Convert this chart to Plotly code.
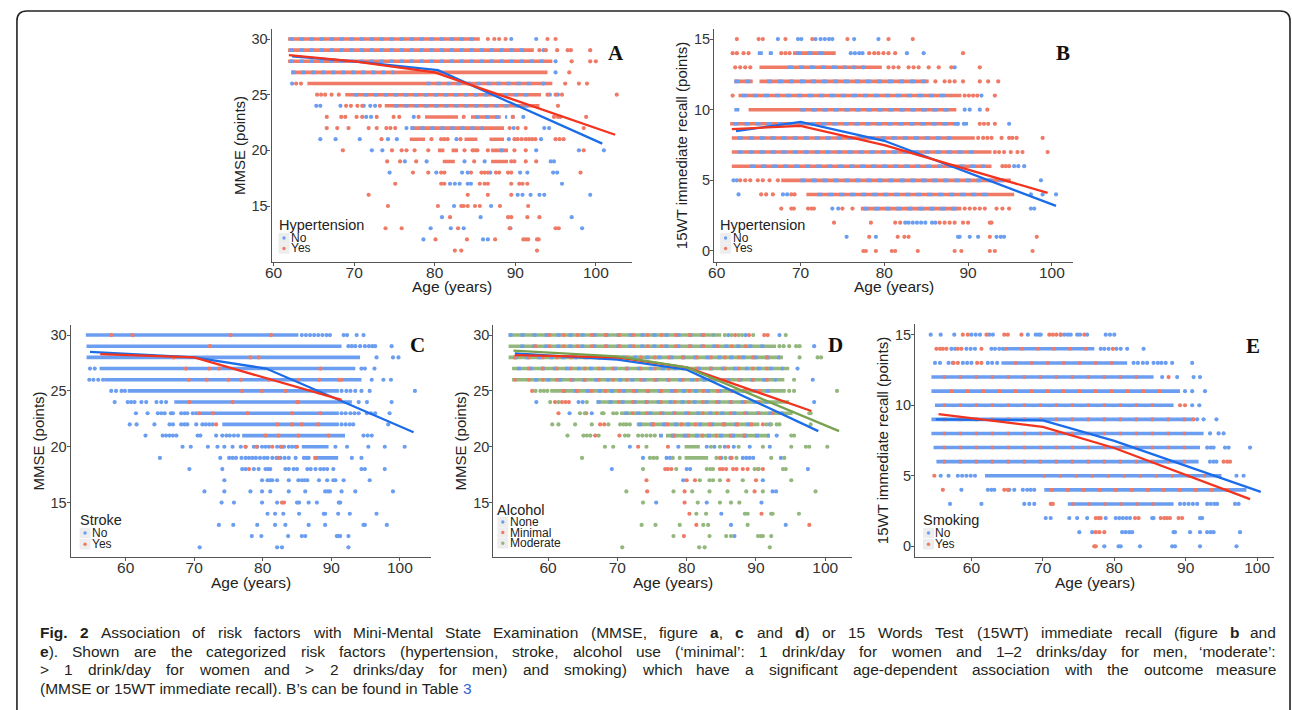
import re
import plotly.graph_objects as go

# ======================= DATA =======================
AGE_TICKS = [60, 70, 80, 90, 100]
MMSE_TICKS = [15, 20, 25, 30]
RECALL_TICKS = [0, 5, 10, 15]

# ---- Panel A: MMSE by hypertension ----  (runs = dense stretches of points, pts = single points)
A_YES_RUNS = {30: [(61.8, 85.6)], 29: [(61.8, 92.3)], 28: [(61.8, 94.6)], 27: [(62.2, 94.0)],
              26: [(64.2, 94.6)], 25: [(68.9, 93.2)], 24: [(73.8, 93.0)], 23: [(78.8, 82.9), (84.5, 88.2)],
              22: [(77.0, 88.6)], 21: [(76.9, 78.8), (83.7, 85.3), (86.8, 88.6)],
              20: [(80.4, 81.2), (82.1, 82.9), (87.0, 89.1)], 19: [(81.0, 82.5), (87.0, 89.1)]}
A_NO_RUNS = {30: [(62.0, 85.0)], 29: [(62.0, 91.8)], 28: [(62.0, 94.0)], 27: [(62.2, 75.0)],
             26: [(79.0, 92.5)], 25: [(70.0, 92.0)], 24: [(75.0, 92.0)], 23: [(85.0, 89.0)], 22: [(77.0, 86.0)]}
A_NO_PTS = {30: [89.5, 92.6], 29: [93.5], 28: [95.0], 27: [95.0], 26: [62.3, 93.5], 25: [94.3, 95.3],
            24: [65.3, 65.8, 68.3, 71.2, 72.0, 72.6], 23: [71.5, 72.1, 77.4, 89.7, 91.0],
            22: [76.5, 89.8, 93.6, 94.2], 21: [65.8, 67.7, 70.7, 74.2, 75.3, 82.7, 89.2, 93.2],
            20: [72.2, 73.5, 88.3, 92.6, 97.9, 101.0], 19: [76.3, 79.0, 83.7, 86.2, 94.4, 94.8],
            18: [74.4, 80.2, 83.4, 84.1, 86.9, 90.6, 91.5, 94.7, 95.2], 17: [81.9, 82.5, 83.1, 84.1, 84.5, 95.8],
            16: [90.3, 90.9, 91.9, 93.0, 93.6, 99.3], 15: [82.4, 87.0], 14: [80.9, 85.7, 97.0],
            13: [79.5, 82.0, 83.6, 89.4, 98.3], 12: [78.6, 86.0, 86.6]}
A_YES_PTS = {30: [86.6, 87.4, 88.0, 88.8, 94.0, 95.0], 29: [93.0, 93.8, 95.2, 96.5, 96.9, 99.3],
             28: [97.0, 99.3, 100.0], 27: [96.7], 26: [62.8, 63.4, 96.2, 97.9, 98.9],
             25: [65.4, 65.9, 66.4, 67.2, 68.1, 94.0, 95.0, 95.8, 102.6], 24: [69.0, 69.6, 70.4, 71.0, 73.2, 95.3],
             23: [66.6, 68.4, 68.9, 70.3, 71.0, 72.8, 74.9, 75.6, 78.0, 83.6, 89.7, 94.8, 95.3, 95.6, 98.8],
             22: [66.6, 67.9, 69.3, 71.8, 72.8, 74.0, 74.5, 75.1, 89.3, 90.3, 91.3, 98.5],
             21: [73.4, 79.6, 80.8, 81.2, 81.6, 83.2, 89.9, 90.3, 90.8, 91.3, 91.7, 92.1, 92.5, 95.0, 95.5, 96.0],
             20: [68.6, 74.7, 75.9, 76.5, 77.5, 79.2, 83.7, 84.7, 85.0, 85.3, 86.6, 89.9, 91.3, 98.5],
             19: [74.1, 75.7, 77.7, 84.9, 89.5, 89.9, 91.3, 92.6],
             18: [77.3, 79.2, 80.8, 81.2, 84.5, 85.8, 86.2, 86.6, 87.6, 88.0, 89.1, 89.5, 98.1],
             17: [75.1, 80.8, 81.2, 85.6, 86.2, 86.6, 89.5, 90.5, 90.9, 91.5], 16: [71.8, 84.1, 86.6, 89.5],
             15: [74.2, 80.4, 83.3, 83.6, 84.1, 85.0, 85.6, 88.1, 91.6], 14: [81.9, 89.1, 89.5, 91.5, 93.0],
             13: [73.9, 75.9, 82.9, 89.3, 95.0, 95.4], 12: [80.1, 84.0, 87.5, 91.0, 91.3, 91.6, 92.7, 92.9],
             11: [82.5, 83.3, 92.7]}
A_NO_FIT_AGE = [62.3, 70, 80.4, 100.8]
A_NO_FIT = [28.45, 28.0, 27.2, 20.6]
A_YES_FIT_AGE = [61.9, 70, 80, 102.4]
A_YES_FIT = [28.56, 28.0, 27.0, 21.4]

# ---- Panel B: 15WT recall by hypertension ----
B_YES_RUNS = {14: [(69.1, 74.2)], 13: [(65.1, 79.7)], 12: [(62.1, 64.3), (65.1, 85.3)], 11: [(62.6, 89.2)],
              10: [(63.8, 88.6)], 9: [(61.6, 88.8)], 8: [(61.8, 90.8)], 7: [(61.8, 92.8)], 6: [(61.8, 92.8)],
              5: [(67.7, 95.1)], 4: [(70.7, 95.5)], 3: [(77.2, 89.2)]}
B_NO_RUNS = {14: [(64.9, 66.7), (69.5, 73.0)], 13: [(68.5, 75.5)], 12: [(62.1, 64.0), (66.0, 85.0)],
             11: [(63.0, 88.0)], 10: [(62.1, 63.4), (70.0, 88.0)], 9: [(62.0, 90.0)], 8: [(62.5, 88.0)],
             7: [(62.5, 91.0)], 6: [(64.0, 92.0)], 5: [(70.0, 95.0)], 4: [(72.0, 93.0)], 3: [(77.5, 89.0)]}
B_NO_PTS = {15: [67.3, 69.7, 70.1, 71.8, 72.4, 72.9, 73.4, 73.8, 76.4, 79.3],
            14: [76.0, 76.5, 77.0, 77.4, 82.7, 84.7], 13: [76.4, 77.5, 88.4], 11: [91.6],
            10: [89.6, 90.2, 91.4], 9: [88.8, 89.5, 94.9], 6: [95.5, 96.0, 96.7], 5: [62.0, 62.4, 98.7],
            4: [62.6, 67.9, 68.4, 97.5, 98.9, 100.5], 3: [73.8, 74.5, 97.5, 97.9],
            2: [82.5, 82.9, 83.4, 83.9, 84.4, 84.9, 85.7, 86.1],
            1: [75.5, 79.0, 88.8, 89.0, 90.2, 91.2, 93.4, 93.9, 94.3]}
B_YES_PTS = {15: [62.4, 65.0, 65.5, 68.2, 71.4, 75.6, 80.5, 83.4],
             14: [61.9, 62.4, 63.2, 63.8, 67.7, 68.2, 68.7, 78.2, 78.8, 79.3, 79.9, 80.5, 81.3, 89.4],
             13: [62.2, 62.8, 63.4, 64.0, 80.5, 81.1, 81.7, 82.9, 83.5, 84.1, 85.3, 86.5, 88.0, 91.4],
             12: [86.1, 87.2, 87.8, 88.4, 89.4, 91.4, 92.4, 93.6], 11: [61.9, 89.6, 90.1, 90.6, 91.1, 93.2],
             10: [92.3], 9: [91.4, 91.9, 92.4, 93.2], 8: [91.2, 91.8, 92.3, 92.8, 94.0, 94.9, 95.3, 95.8, 98.9],
             7: [93.2, 93.7, 94.3, 95.1, 95.9, 96.5, 99.5], 6: [94.1, 94.5, 94.9],
             5: [62.8, 63.4, 64.0, 64.9, 65.5, 66.3, 67.3], 4: [65.3, 65.9, 66.7, 68.9, 69.3],
             3: [67.7, 68.9, 69.2, 70.9, 71.3, 71.6, 75.0, 76.2, 89.6, 90.2, 90.8, 91.4, 92.0, 93.4, 94.1, 94.9],
             2: [74.0, 78.4, 81.3, 81.9, 86.6, 87.2, 87.8, 88.4, 89.4, 90.0, 92.6, 92.8],
             1: [78.2, 81.6, 82.4, 82.9, 92.6, 98.2],
             0: [77.5, 77.8, 79.0, 80.9, 81.3, 84.0, 88.4, 89.2, 92.6, 93.2, 97.7]}
B_NO_FIT_AGE = [62.3, 70, 80, 100.5]
B_NO_FIT = [8.48, 9.14, 7.8, 3.19]
B_YES_FIT_AGE = [61.8, 70, 80, 99.5]
B_YES_FIT = [8.62, 8.86, 7.49, 4.11]

# ---- Panel C: MMSE by stroke ----
C_NO_RUNS = {30: [(54.2, 85.2)], 29: [(54.3, 91.5)], 28: [(54.3, 94.2)], 27: [(56.2, 93.5)],
             26: [(56.9, 94.4)], 25: [(60.3, 91.1)], 24: [(67.1, 93.0)], 23: [(70.7, 91.1)],
             22: [(74.1, 91.1)], 21: [(77.0, 92.0)], 20: [(85.7, 89.6)], 19: [(87.4, 91.0)]}
C_NO_PTS = {30: [85.7, 86.3, 86.9, 87.5, 88.1, 88.7, 89.3, 89.8, 91.8, 92.3, 93.7, 94.7],
            29: [92.5, 93.0, 93.5, 94.2, 94.9, 95.5, 96.0, 96.4, 98.8], 28: [96.6, 99.0, 99.8],
            27: [54.8, 55.5, 94.4, 94.9, 96.3], 26: [54.7, 55.3, 56.0, 56.7, 95.9, 97.6, 98.7],
            25: [57.9, 58.6, 59.4, 59.9, 91.5, 92.2, 92.8, 93.5, 94.4, 95.6, 102.2],
            24: [58.4, 60.3, 60.8, 61.3, 62.3, 63.0, 64.5, 65.2, 65.9, 94.0, 95.2, 98.8],
            23: [61.5, 63.2, 64.7, 65.2, 65.7, 66.6, 66.9, 68.1, 68.6, 69.0, 69.8, 70.3, 91.5, 92.1, 92.8,
                 93.4, 94.0, 95.2, 95.8, 96.4, 98.5],
            22: [60.6, 61.6, 64.2, 66.4, 66.9, 68.1, 68.6, 69.0, 70.3, 71.2, 71.7, 72.2, 72.7, 91.5, 92.1,
                 92.7, 93.2, 98.3],
            21: [62.9, 65.4, 65.9, 66.4, 66.9, 67.4, 70.5, 70.9, 73.2, 74.1, 74.7, 75.2, 75.8, 76.4, 94.7,
                 95.3, 95.9],
            20: [68.3, 69.5, 72.0, 73.4, 74.4, 75.6, 76.8, 77.5, 78.7, 79.2, 79.9, 80.4, 80.9, 82.1, 82.6,
                 83.1, 83.8, 84.3, 84.8, 90.6, 92.3, 95.4, 97.8, 100.7],
            19: [65.0, 73.8, 75.1, 75.6, 76.1, 76.9, 77.5, 78.0, 78.5, 79.0, 79.6, 80.2, 80.7, 81.4, 82.0,
                 82.6, 83.2, 83.8, 84.8, 86.0, 86.4, 86.7, 93.0, 94.4],
            18: [69.3, 74.1, 77.0, 77.5, 78.7, 79.4, 80.4, 80.8, 81.1, 83.3, 83.8, 84.5, 85.0, 86.5, 87.0,
                 87.7, 88.4, 88.9, 89.4, 90.3, 94.4, 94.9, 97.8],
            17: [74.4, 79.9, 80.7, 81.1, 81.4, 82.1, 83.8, 85.2, 85.7, 86.1, 86.5, 88.2, 89.4, 90.3, 90.6,
                 91.8, 95.6],
            16: [71.5, 74.4, 78.2, 79.9, 81.1, 83.8, 86.2, 89.1, 89.5, 89.8, 91.5, 93.5, 99.0],
            15: [74.0, 75.8, 79.9, 82.1, 85.0, 85.3, 86.7, 87.9, 91.1, 91.3],
            14: [80.7, 81.8, 83.0, 85.3, 88.9, 89.1, 91.0, 92.7, 96.6],
            13: [73.6, 75.7, 79.2, 81.8, 83.3, 86.7, 89.1, 94.7, 94.9, 98.1],
            12: [78.4, 79.8, 83.7, 85.7, 86.2, 90.8, 91.1, 91.3, 92.5], 11: [70.8, 82.1, 82.8, 92.5]}
C_YES_PTS = {30: [57.9, 61.0, 75.3, 81.2], 29: [72.3], 28: [67.0, 78.2, 79.4], 27: [68.8, 72.2, 73.6, 88.4],
             26: [69.2, 71.8, 75.0, 76.8, 80.9, 85.2, 88.2, 91.1, 91.5], 25: [77.0, 79.9, 83.3],
             24: [69.3, 75.6, 85.0, 85.2], 23: [70.7, 72.7, 77.8, 84.3, 88.4], 22: [73.2, 82.1, 84.3, 85.7, 88.1],
             21: [80.4, 82.3, 85.2, 89.6], 20: [77.5, 79.1, 81.4, 82.8, 85.0], 19: [82.3, 87.7], 18: [78.0],
             15: [82.8, 83.1]}
C_NO_FIT_AGE = [54.8, 70, 80.5, 102.0]
C_NO_FIT = [28.5, 28.0, 27.0, 21.3]
C_YES_FIT_AGE = [56.3, 70, 91.5]
C_YES_FIT = [28.3, 28.0, 24.2]

# ---- Panel D: MMSE by alcohol ----
D_MOD_RUNS = {30: [(54.3, 85.0)], 29: [(54.3, 92.9)], 28: [(54.3, 93.9)], 27: [(54.8, 94.8)],
              26: [(54.8, 94.1)], 25: [(60.3, 94.3)], 24: [(67.0, 94.8)], 23: [(70.4, 95.3)],
              22: [(72.8, 90.5)], 21: [(77.0, 92.0)], 20: [(79.7, 81.9)], 19: [(79.7, 83.1)]}
D_NONE_RUNS = {30: [(54.3, 84.0)], 29: [(56.0, 92.0)], 28: [(55.0, 93.5)], 27: [(55.5, 94.0)],
               26: [(58.0, 93.0)], 25: [(62.0, 93.0)], 24: [(67.0, 93.0)], 23: [(71.0, 94.0)],
               22: [(73.0, 90.0)], 21: [(76.0, 92.0)]}
D_MIN_RUNS = {30: [(60.0, 84.0)], 29: [(58.0, 90.0)], 28: [(55.0, 93.5)], 27: [(57.0, 92.0)],
              26: [(55.0, 92.0)], 25: [(62.0, 92.0)], 24: [(70.0, 92.0)], 23: [(72.0, 94.0)],
              22: [(75.0, 90.0)], 21: [(78.0, 90.0)]}
D_NONE_PTS = {30: [86.0, 88.5, 93.4], 29: [98.4], 27: [96.0], 26: [98.2], 24: [58.3, 64.4, 65.0, 98.4],
              23: [63.1, 66.3], 22: [92.0], 21: [93.0], 20: [71.8, 78.8, 82.9, 84.0, 85.5, 86.8, 89.1, 92.0],
              19: [73.7, 77.1, 77.6, 85.0, 86.3, 88.1, 88.6, 89.1, 89.6, 93.6], 18: [69.2, 80.0, 80.5, 97.5],
              17: [79.5, 91.0], 16: [92.4, 92.9], 15: [75.6, 82.9, 90.8], 14: [85.0], 13: [86.4, 94.3], 12: [86.9]}
D_MIN_PTS = {30: [87.0, 89.0, 91.2, 91.7], 25: [57.7], 24: [61.0, 62.0, 62.5, 63.0], 23: [61.5, 65.5],
             22: [67.5, 68.1, 91.0], 21: [66.8, 70.3], 20: [73.0, 77.3, 86.0], 19: [84.8, 86.5],
             18: [76.9, 77.3, 77.8, 84.8, 85.2, 85.7, 86.7, 87.2, 88.1, 88.8, 90.3, 91.0],
             17: [74.2, 80.0, 81.2, 86.0, 90.0], 16: [74.3, 79.7, 89.8], 15: [79.7], 14: [80.4, 90.8],
             13: [81.4, 97.7], 12: [79.6]}
D_MOD_PTS = {30: [85.5, 86.5, 87.5, 88.0, 89.6, 94.3], 29: [93.4, 94.0, 94.8, 95.8, 96.3], 28: [96.3, 98.9, 99.4],
             26: [95.5], 25: [58.2, 58.9, 59.4, 59.9, 94.8, 95.5, 101.7], 24: [60.3, 61.5, 65.6],
             23: [64.6, 65.3, 67.8, 68.0, 69.4, 69.9, 97.7, 97.9],
             22: [60.6, 61.5, 63.9, 66.3, 68.7, 70.4, 70.9, 71.3, 71.8, 91.5, 92.2, 93.0, 93.4, 97.9],
             21: [62.8, 65.1, 65.6, 66.1, 67.3, 71.1, 71.6, 73.0, 73.6, 74.2, 74.8, 75.4, 95.1, 95.5],
             20: [68.2, 69.4, 74.2, 83.5, 84.8, 87.5, 91.0, 95.1, 97.2, 97.7, 100.3],
             19: [64.9, 74.7, 75.2, 75.7, 78.0, 79.0, 84.3, 85.6, 87.2, 92.2, 94.1],
             18: [73.7, 78.5, 82.9, 83.4, 83.8, 89.8, 90.4, 93.9, 94.3], 17: [81.9, 83.3, 83.8, 84.8, 88.1, 95.1],
             16: [71.3, 78.1, 80.8, 83.3, 85.9, 88.6, 91.0, 98.6], 15: [73.7, 81.6, 84.8, 86.4, 87.6],
             14: [81.4, 82.8, 88.4, 88.8, 92.2, 92.4, 96.2], 13: [73.5, 75.5, 79.0, 82.4, 83.1, 88.8],
             12: [78.1, 83.3, 85.7, 86.4, 90.3, 90.7, 91.0, 92.2], 11: [70.7, 81.8, 82.6, 92.0]}
D_NONE_FIT_AGE = [55.2, 70, 80, 99.0]
D_NONE_FIT = [28.36, 27.8, 26.9, 21.4]
D_MIN_FIT_AGE = [55.2, 70, 80, 98.0]
D_MIN_FIT = [28.2, 28.0, 27.1, 23.2]
D_MOD_FIT_AGE = [55.0, 70, 80, 102.0]
D_MOD_FIT = [28.6, 28.1, 27.1, 21.4]

# ---- Panel E: 15WT recall by smoking ----
E_NO_RUNS = {14: [(64.6, 77.2)], 13: [(64.2, 81.8)], 12: [(54.4, 85.5)], 11: [(54.4, 89.2)],
             10: [(54.9, 88.3)], 9: [(54.4, 91.1)], 8: [(54.4, 92.5)], 7: [(54.7, 92.0)], 6: [(55.1, 91.8)],
             5: [(61.9, 95.0)], 4: [(70.2, 98.5)], 3: [(73.5, 88.3)]}
E_YES_RUNS = {14: [(64.6, 77.0)], 13: [(66.0, 80.0)], 12: [(56.0, 84.0)], 11: [(57.0, 88.0)],
              10: [(56.0, 86.0)], 9: [(56.0, 90.0)], 8: [(56.0, 90.0)], 7: [(56.0, 91.0)], 6: [(56.0, 91.0)],
              5: [(70.0, 94.0)], 4: [(71.0, 97.0)], 3: [(74.0, 87.0)]}
E_NO_PTS = {15: [54.3, 55.7, 57.6, 60.0, 60.6, 61.2, 62.5, 63.0, 67.9, 69.0, 69.4, 69.7, 72.5, 73.0, 73.5,
                 73.9, 74.8, 75.2, 76.2, 78.8, 79.4, 80.0],
            14: [57.2, 57.7, 59.3, 59.9, 60.5, 62.8, 63.3, 63.9, 64.4, 78.1, 78.6, 79.2, 80.3, 80.9, 81.8, 84.1],
            13: [54.9, 55.6, 56.8, 57.4, 58.8, 59.4, 60.0, 62.3, 62.9, 63.6, 82.7, 83.3, 84.0, 84.6, 85.5,
                 86.1, 86.6, 87.2, 88.1, 90.9],
            12: [86.7, 88.8, 91.1, 92.0], 11: [89.9, 90.9, 92.7], 10: [90.9, 91.9], 9: [91.6, 92.5, 94.3],
            8: [93.4, 94.6, 95.3], 7: [93.0, 93.5, 93.9, 95.5, 96.0, 99.0], 6: [93.4, 93.9, 94.3],
            5: [55.7, 56.8, 58.1, 58.7, 59.3, 59.9, 60.5, 97.1, 98.1],
            4: [58.6, 62.3, 62.8, 63.2, 65.3, 66.0, 67.2, 67.8, 68.3, 68.8],
            3: [57.0, 61.4, 67.4, 68.1, 68.8, 89.2, 89.8, 90.4, 91.0, 91.6, 93.0, 93.5, 94.0, 94.4, 96.9, 97.4],
            2: [70.4, 71.1, 73.7, 74.8, 76.2, 78.8, 80.2, 80.7, 81.2, 81.7, 82.2, 85.3, 85.5, 92.0, 92.3],
            1: [75.1, 76.9, 81.1, 81.6, 82.1, 82.5, 88.3, 88.5, 90.6, 92.0, 93.0, 93.5, 93.9, 97.6],
            0: [78.6, 80.6, 80.9, 83.6, 88.1, 88.5, 92.0, 97.1]}
E_YES_PTS = {15: [58.8, 59.5, 62.1, 64.6, 65.1, 67.0, 70.9, 71.4, 71.9, 72.5, 75.8],
             14: [55.1, 55.6, 56.0, 56.5, 58.1, 58.6, 61.4, 79.8], 13: [57.5, 58.1, 60.8, 61.4], 12: [87.6],
             10: [89.2, 89.9], 9: [91.1], 6: [95.3, 95.8, 96.2], 5: [54.8], 4: [56.0, 64.6, 65.1], 3: [71.1, 71.4],
             2: [77.4, 77.8, 78.1, 82.9, 83.4, 86.5, 87.0, 87.4, 87.8, 89.0, 89.5], 1: [77.4, 77.9, 78.6],
             0: [77.2, 77.4]}
E_NO_FIT_AGE = [55.0, 70, 80, 100.5]
E_NO_FIT = [9.0, 8.93, 7.47, 3.86]
E_YES_FIT_AGE = [55.4, 70, 80, 99.0]
E_YES_FIT = [9.37, 8.46, 6.97, 3.34]

CAPTION = [
    "<b>Fig.</b> <b>2</b> Association of risk factors with Mini-Mental State Examination (MMSE, figure <b>a</b>, <b>c</b> and <b>d</b>) or 15 Words Test (15WT) immediate recall (figure <b>b</b> and",
    "<b>e</b>). Shown are the categorized risk factors (hypertension, stroke, alcohol use (\u2018minimal\u2019: 1 drink/day for women and 1\u20132 drinks/day for men, \u2018moderate\u2019:",
    "> 1 drink/day for women and > 2 drinks/day for men) and smoking) which have a significant age-dependent association with the outcome measure",
    "(MMSE or 15WT immediate recall). B\u2019s can be found in Table <span style='color:#2F62D6'>3</span>",
]
CAPTION_JUSTIFY = [True, True, True, False]

# ======================= STYLE / LAYOUT =======================
W, H = 1292, 710
PT_BLUE, PT_RED, PT_GREEN = "#6B9EF0", "#EF7A66", "#93B77D"
LN_BLUE, LN_RED, LN_GREEN = "#1B6CE8", "#F2341E", "#78A24F"
FONT = "Liberation Sans, Arial, sans-serif"
CAP_FONT = "Liberation Sans, Arial, sans-serif"
CAP_SIZE = 15.5
CAP_LEFT, CAP_RIGHT = 32, 1277
CAP_Y = [632.5, 651, 669.5, 688]
TXT = "#222222"

# Arial / Liberation Sans advance widths (em)
_AR = {' ': .278, 'a': .556, 'b': .556, 'c': .5, 'd': .556, 'e': .556, 'f': .278, 'g': .556, 'h': .556,
       'i': .222, 'j': .222, 'k': .5, 'l': .222, 'm': .833, 'n': .556, 'o': .556, 'p': .556, 'q': .556,
       'r': .333, 's': .5, 't': .278, 'u': .556, 'v': .5, 'w': .722, 'x': .5, 'y': .5, 'z': .5,
       '.': .278, ',': .278, ':': .278, '(': .333, ')': .333, '/': .278, '-': .333, '\u2013': .556, '>': .584,
       '\u2018': .222, '\u2019': .222, 'A': .667, 'B': .667, 'C': .722, 'D': .722, 'E': .667, 'F': .611,
       'G': .778, 'I': .278, 'M': .833, 'S': .667, 'T': .611, 'W': .944, 'R': .722, 'K': .667, 'N': .722}
_AR_BOLD = {'F': .611, 'i': .278, 'g': .611, '.': .278, '2': .556, 'a': .556, 'b': .611, 'c': .556,
            'd': .611, 'e': .556}


def word_width(word, size):
    total, bold = 0.0, False
    for part in re.split(r"(</?b>)", word):
        if part == "<b>":
            bold = True
        elif part == "</b>":
            bold = False
        else:
            for ch in part:
                if bold and ch in _AR_BOLD:
                    total += _AR_BOLD[ch]
                else:
                    total += _AR.get(ch, .556)
    return total * size


def px(x):
    return x / W


def py(y):
    return 1 - y / H


def runs_xy(runs):
    xs, ys = [], []
    for score, segs in runs.items():
        for a, b in segs:
            xs += [a, b, None]
            ys += [score, score, None]
    return xs, ys


def pts_xy(pts):
    xs, ys = [], []
    for score, ages in pts.items():
        xs += ages
        ys += [score] * len(ages)
    return xs, ys


# panel boxes in pixels: (left, right, top, bottom), axis ranges
PANELS = [
    dict(letter="A", box=(266, 628, 29, 262), xr=[59.75, 104.44], yr=[9.97, 30.9], yt=MMSE_TICKS,
         ytitle="MMSE (points)", ltitle="Hypertension", lx=273, ltitle_y=225, litems=[238, 248.5],
         letter_xy=(612, 53), xtitle_y=286.5,
         base=[(A_YES_RUNS, PT_RED)], over=[(A_NO_RUNS, PT_BLUE, "4px,6px")],
         pts=[(A_NO_PTS, PT_BLUE), (A_YES_PTS, PT_RED)],
         fits=[(A_NO_FIT_AGE, A_NO_FIT, LN_BLUE), (A_YES_FIT_AGE, A_YES_FIT, LN_RED)],
         labels=[("No", PT_BLUE), ("Yes", PT_RED)]),
    dict(letter="B", box=(711, 1072, 29, 262), xr=[59.69, 102.55], yr=[-0.78, 15.71], yt=RECALL_TICKS,
         ytitle="15WT immediate recall (points)", ltitle="Hypertension", lx=717, ltitle_y=225,
         litems=[238, 248.5], letter_xy=(1062, 53), xtitle_y=286.5,
         base=[(B_YES_RUNS, PT_RED)], over=[(B_NO_RUNS, PT_BLUE, "5px,6px")],
         pts=[(B_NO_PTS, PT_BLUE), (B_YES_PTS, PT_RED)],
         fits=[(B_NO_FIT_AGE, B_NO_FIT, LN_BLUE), (B_YES_FIT_AGE, B_YES_FIT, LN_RED)],
         labels=[("No", PT_BLUE), ("Yes", PT_RED)]),
    dict(letter="C", box=(64, 426, 325, 557), xr=[51.98, 104.5], yr=[10.13, 30.9], yt=MMSE_TICKS,
         ytitle="MMSE (points)", ltitle="Stroke", lx=73, ltitle_y=520, litems=[533, 544.3],
         letter_xy=(413, 345), xtitle_y=582,
         base=[(C_NO_RUNS, PT_BLUE)], over=[],
         pts=[(C_NO_PTS, PT_BLUE), (C_YES_PTS, PT_RED)],
         fits=[(C_NO_FIT_AGE, C_NO_FIT, LN_BLUE), (C_YES_FIT_AGE, C_YES_FIT, LN_RED)],
         labels=[("No", PT_BLUE), ("Yes", PT_RED)]),
    dict(letter="D", box=(489, 850, 325, 557), xr=[52.1, 103.92], yr=[10.13, 30.9], yt=MMSE_TICKS,
         ytitle="MMSE (points)", ltitle="Alcohol", lx=493, ltitle_y=510, litems=[522, 532.5, 543.3],
         letter_xy=(833, 345), xtitle_y=582,
         base=[(D_MOD_RUNS, PT_GREEN)],
         over=[(D_NONE_RUNS, PT_BLUE, "4px,8px"), (D_MIN_RUNS, PT_RED, "3px,11px")],
         pts=[(D_NONE_PTS, PT_BLUE), (D_MIN_PTS, PT_RED), (D_MOD_PTS, PT_GREEN)],
         fits=[(D_NONE_FIT_AGE, D_NONE_FIT, LN_BLUE), (D_MIN_FIT_AGE, D_MIN_FIT, LN_RED),
               (D_MOD_FIT_AGE, D_MOD_FIT, LN_GREEN)],
         labels=[("None", PT_BLUE), ("Minimal", PT_RED), ("Moderate", PT_GREEN)]),
    dict(letter="E", box=(913, 1274, 324, 557), xr=[52.11, 102.37], yr=[-0.76, 15.76], yt=RECALL_TICKS,
         ytitle="15WT immediate recall (points)", ltitle="Smoking", lx=921, ltitle_y=520, litems=[533, 544.3],
         letter_xy=(1253, 346), xtitle_y=582,
         base=[(E_NO_RUNS, PT_BLUE)], over=[(E_YES_RUNS, PT_RED, "3px,13px")],
         pts=[(E_NO_PTS, PT_BLUE), (E_YES_PTS, PT_RED)],
         fits=[(E_NO_FIT_AGE, E_NO_FIT, LN_BLUE), (E_YES_FIT_AGE, E_YES_FIT, LN_RED)],
         labels=[("No", PT_BLUE), ("Yes", PT_RED)]),
]

fig = go.Figure()
layout = dict(width=W, height=H, margin=dict(l=0, r=0, t=0, b=0), paper_bgcolor="white",
              plot_bgcolor="white", showlegend=False, font=dict(family=FONT, color=TXT))
annotations, shapes = [], []

for i, p in enumerate(PANELS, start=1):
    xa = "x" if i == 1 else f"x{i}"
    ya = "y" if i == 1 else f"y{i}"
    l, r, t, b = p["box"]
    for runs, col in p["base"]:
        xs, ys = runs_xy(runs)
        fig.add_trace(go.Scatter(x=xs, y=ys, mode="lines", line=dict(color=col, width=3.6),
                                 xaxis=xa, yaxis=ya, hoverinfo="skip"))
    for runs, col, dash in p["over"]:
        xs, ys = runs_xy(runs)
        fig.add_trace(go.Scatter(x=xs, y=ys, mode="lines", line=dict(color=col, width=3.6, dash=dash),
                                 xaxis=xa, yaxis=ya, hoverinfo="skip"))
    for pts, col in p["pts"]:
        xs, ys = pts_xy(pts)
        fig.add_trace(go.Scatter(x=xs, y=ys, mode="markers", marker=dict(color=col, size=4.2, line=dict(width=0)),
                                 xaxis=xa, yaxis=ya))
    for ages, vals, col in p["fits"]:
        fig.add_trace(go.Scatter(x=ages, y=vals, mode="lines", line=dict(color=col, width=2.3),
                                 xaxis=xa, yaxis=ya))

    axis_common = dict(showgrid=False, zeroline=False, showline=True, linecolor="#555555", linewidth=1.2,
                       ticks="outside", ticklen=3, tickcolor="#555555", tickwidth=1.2)
    layout["xaxis" if i == 1 else f"xaxis{i}"] = dict(
        axis_common, domain=[px(l), px(r)], range=p["xr"], tickvals=AGE_TICKS, anchor=ya,
        tickfont=dict(size=15.5, color="#333333", family=FONT), ticklabelstandoff=-7)
    layout["yaxis" if i == 1 else f"yaxis{i}"] = dict(
        axis_common, domain=[py(b), py(t)], range=p["yr"], tickvals=p["yt"], anchor=xa,
        tickfont=dict(size=14.5, color="#333333", family=FONT), ticklabelstandoff=-3,
        title=dict(text=p["ytitle"], font=dict(size=15, color=TXT), standoff=2))

    # x axis title
    annotations.append(dict(x=px((l + r) / 2), y=py(p["xtitle_y"]), xref="paper", yref="paper",
                            text="Age (years)", showarrow=False, xanchor="center", yanchor="middle",
                            borderpad=0, font=dict(size=15.5, color=TXT)))
    # panel letter
    lxp, lyp = p["letter_xy"]
    annotations.append(dict(x=px(lxp), y=py(lyp), xref="paper", yref="paper", text=f"<b>{p['letter']}</b>",
                            showarrow=False, xanchor="center", yanchor="middle",
                            font=dict(family="Liberation Serif, Times New Roman, serif", size=21, color="#111111")))
    # legend (drawn by hand)
    lx = p["lx"]
    annotations.append(dict(x=px(lx - 1), y=py(p["ltitle_y"]), xref="paper", yref="paper", text=p["ltitle"],
                            showarrow=False, xanchor="left", yanchor="middle", borderpad=0,
                            font=dict(size=14.5, color=TXT)))
    for (lab, col), yy in zip(p["labels"], p["litems"]):
        shapes.append(dict(type="rect", xref="paper", yref="paper", x0=px(lx), x1=px(lx + 11),
                           y0=py(yy + 5.2), y1=py(yy - 5.2), fillcolor="#EDEDED", line=dict(width=0)))
        shapes.append(dict(type="circle", xref="paper", yref="paper", x0=px(lx + 3.8), x1=px(lx + 7.2),
                           y0=py(yy + 1.7), y1=py(yy - 1.7), fillcolor=col, line=dict(width=0)))
        annotations.append(dict(x=px(lx + 11.5), y=py(yy), xref="paper", yref="paper", text=lab,
                                showarrow=False, xanchor="left", yanchor="middle", borderpad=0,
                                font=dict(size=12, color=TXT)))

# caption (justified lines are laid out word by word)
for line, yy, just in zip(CAPTION, CAP_Y, CAPTION_JUSTIFY):
    cap_font = dict(family=CAP_FONT, size=CAP_SIZE, color="#231F20")
    if not just:
        annotations.append(dict(x=px(CAP_LEFT), y=py(yy), xref="paper", yref="paper", text=line,
                                showarrow=False, xanchor="left", yanchor="middle", font=cap_font,
                                borderpad=0))
        continue
    words = line.split(" ")
    widths = [word_width(w, CAP_SIZE) for w in words]
    gap = (CAP_RIGHT - CAP_LEFT - sum(widths)) / (len(words) - 1)
    xcur = CAP_LEFT
    for k, (w, ww) in enumerate(zip(words, widths)):
        last = k == len(words) - 1
        annotations.append(dict(x=px(CAP_RIGHT if last else xcur), y=py(yy), xref="paper", yref="paper",
                                text=w, showarrow=False, xanchor="right" if last else "left",
                                yanchor="middle", font=cap_font, borderpad=0))
        xcur += ww + gap

# outer rounded frame
frame = (f"M {px(10)},{py(715)} L {px(10)},{py(21)} Q {px(10)},{py(11)} {px(20)},{py(11)} "
         f"L {px(1280)},{py(11)} Q {px(1290)},{py(11)} {px(1290)},{py(21)} L {px(1290)},{py(715)}")
shapes.append(dict(type="path", xref="paper", yref="paper", path=frame, line=dict(color="#222222", width=1.6)))

layout["annotations"] = annotations
layout["shapes"] = shapes
fig.update_layout(**layout)
fig.write_html("out.html", config={"displayModeBar": False},
               post_script="document.body.style.margin='0px';document.body.style.overflow='hidden';")
